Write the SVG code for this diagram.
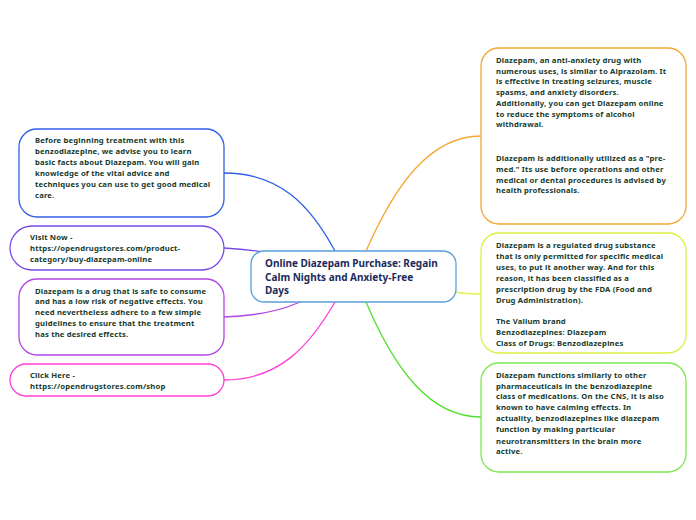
<svg xmlns="http://www.w3.org/2000/svg" width="696" height="520" viewBox="0 0 696 520">
<style>
.box{fill:#ffffff;stroke-width:1.3}
.t{font-family:"Noto Sans","Open Sans",sans-serif;font-size:7.7px;font-weight:700;fill:#173a2b;letter-spacing:0.17px}
.c{font-family:"Noto Sans","Open Sans",sans-serif;font-size:10px;font-weight:700;fill:#1b2a5a}
.ln{fill:none;stroke-width:1.3}
</style>
<rect width="696" height="520" fill="#ffffff"/>
<g id="connectors">
<path class="ln" stroke="#f6a633" d="M366,251 C395,185 430,136 481,136"/>
<path class="ln" stroke="#e4f25a" d="M455,292 C466,294 472,294 481,294"/>
<path class="ln" stroke="#4fe02c" d="M366,302 C395,370 430,417 481,417"/>
<path class="ln" stroke="#2f5fe6" d="M224,173 C280,173 310,205 335,251"/>
<path class="ln" stroke="#7a4ae6" d="M224,248 C240,249 250,250 264,252"/>
<path class="ln" stroke="#b444e6" d="M224,317 C255,316 280,311 300,302"/>
<path class="ln" stroke="#ff3ed6" d="M224,380 C280,380 310,345 335,302"/>
</g>
<g id="center">
<rect class="box" x="251" y="251" width="205" height="51" rx="13" stroke="#5a9fd6"/>
<text class="c"><tspan x="265" y="267">Online Diazepam Purchase: Regain</tspan><tspan x="265" y="280.5">Calm Nights and Anxiety-Free</tspan><tspan x="265" y="294">Days</tspan></text>
</g>
<g id="node-orange">
<rect class="box" x="481" y="48" width="205" height="176" rx="18" stroke="#f6a633"/>
<text class="t"><tspan x="496" y="63">Diazepam, an anti-anxiety drug with</tspan><tspan x="496" y="73.7">numerous uses, is similar to Alprazolam. It</tspan><tspan x="496" y="84.4">is effective in treating seizures, muscle</tspan><tspan x="496" y="95.1">spasms, and anxiety disorders.</tspan><tspan x="496" y="105.8">Additionally, you can get Diazepam online</tspan><tspan x="496" y="116.5">to reduce the symptoms of alcohol</tspan><tspan x="496" y="127.2">withdrawal.</tspan><tspan x="496" y="161.3">Diazepam is additionally utilized as a "pre-</tspan><tspan x="496" y="172">med." Its use before operations and other</tspan><tspan x="496" y="182.7">medical or dental procedures is advised by</tspan><tspan x="496" y="193.4">health professionals.</tspan></text>
</g>
<g id="node-yellow">
<rect class="box" x="481" y="233" width="205" height="120" rx="18" stroke="#dcf040"/>
<text class="t"><tspan x="496" y="248">Diazepam is a regulated drug substance</tspan><tspan x="496" y="258.7">that is only permitted for specific medical</tspan><tspan x="496" y="269.7">uses, to put it another way. And for this</tspan><tspan x="496" y="280.7">reason, it has been classified as a</tspan><tspan x="496" y="292">prescription drug by the FDA (Food and</tspan><tspan x="496" y="303">Drug Administration).</tspan><tspan x="496" y="323.7">The Valium brand</tspan><tspan x="496" y="334.7">Benzodiazepines: Diazepam</tspan><tspan x="496" y="345.7">Class of Drugs: Benzodiazepines</tspan></text>
</g>
<g id="node-green">
<rect class="box" x="481" y="363" width="205" height="109" rx="18" stroke="#7ee84c"/>
<text class="t"><tspan x="496" y="378">Diazepam functions similarly to other</tspan><tspan x="496" y="388.7">pharmaceuticals in the benzodiazepine</tspan><tspan x="496" y="399">class of medications. On the CNS, it is also</tspan><tspan x="496" y="409.7">known to have calming effects. In</tspan><tspan x="496" y="421.3">actuality, benzodiazepines like diazepam</tspan><tspan x="496" y="432.3">function by making particular</tspan><tspan x="496" y="443.7">neurotransmitters in the brain more</tspan><tspan x="496" y="454">active.</tspan></text>
</g>
<g id="node-blue">
<rect class="box" x="19" y="129" width="205" height="88" rx="18" stroke="#2f5fe6"/>
<text class="t"><tspan x="35" y="143">Before beginning treatment with this</tspan><tspan x="35" y="153.7">benzodiazepine, we advise you to learn</tspan><tspan x="35" y="164.7">basic facts about Diazepam. You will gain</tspan><tspan x="35" y="175.7">knowledge of the vital advice and</tspan><tspan x="35" y="187">techniques you can use to get good medical</tspan><tspan x="35" y="198">care.</tspan></text>
</g>
<g id="node-violet">
<rect class="box" x="10" y="226" width="214" height="44" rx="22" stroke="#7a4ae6"/>
<text class="t"><tspan x="30" y="240">Visit Now -</tspan><tspan x="30" y="250.7">https://opendrugstores.com/product-</tspan><tspan x="30" y="261.7">category/buy-diazepam-online</tspan></text>
</g>
<g id="node-purple">
<rect class="box" x="19" y="279" width="205" height="76" rx="18" stroke="#b444e6"/>
<text class="t"><tspan x="35" y="293.7">Diazepam is a drug that is safe to consume</tspan><tspan x="35" y="304">and has a low risk of negative effects. You</tspan><tspan x="35" y="314.7">need nevertheless adhere to a few simple</tspan><tspan x="35" y="325.7">guidelines to ensure that the treatment</tspan><tspan x="35" y="337">has the desired effects.</tspan></text>
</g>
<g id="node-pink">
<rect class="box" x="10" y="364" width="214" height="32" rx="16" stroke="#ff3ed6"/>
<text class="t"><tspan x="30" y="378">Click Here -</tspan><tspan x="30" y="389">https://opendrugstores.com/shop</tspan></text>
</g>
</svg>
